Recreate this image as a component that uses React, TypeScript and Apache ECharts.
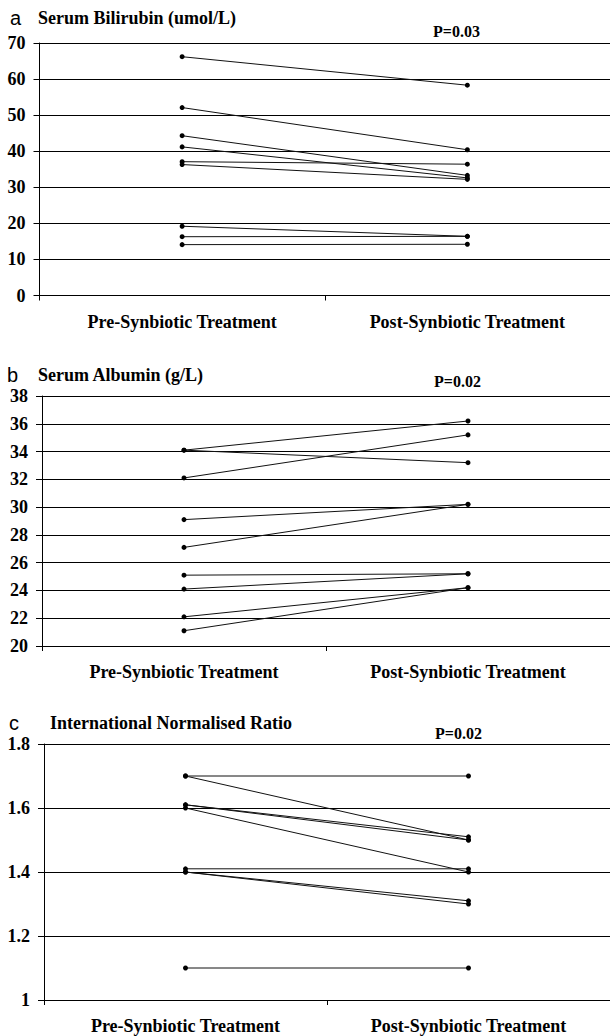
import React, { useEffect, useRef } from "react";
import * as echarts from "echarts";

const categories = ["Pre-Synbiotic Treatment", "Post-Synbiotic Treatment"];

// Panel a: Serum Bilirubin (umol/L)
const bilirubinPre = [66.2, 52.1, 44.3, 41.2, 37.1, 36.3, 19.2, 16.3, 14.1];
const bilirubinPost = [58.3, 40.4, 33.3, 32.6, 36.4, 32.2, 16.4, 16.4, 14.2];

// Panel b: Serum Albumin (g/L)
const albuminPre = [34.1, 34.1, 32.1, 29.1, 27.1, 25.1, 24.1, 22.1, 21.1];
const albuminPost = [36.2, 33.2, 35.2, 30.2, 30.2, 25.2, 25.2, 24.2, 24.2];

// Panel c: International Normalised Ratio
const inrPre = [1.7, 1.7, 1.61, 1.61, 1.6, 1.41, 1.4, 1.4, 1.1];
const inrPost = [1.7, 1.5, 1.51, 1.5, 1.4, 1.41, 1.31, 1.3, 1.1];

const panelLetters = ["a", "b", "c"];
const panelTitles = ["Serum Bilirubin (umol/L)", "Serum Albumin (g/L)", "International Normalised Ratio"];
const pValues = ["P=0.03", "P=0.02", "P=0.02"];
const yMins = [0, 20, 1];
const yMaxs = [70, 38, 1.8];
const yIntervals = [10, 2, 0.2];

const SERIF = "'Liberation Serif', 'Times New Roman', serif";
const SANS = "'Liberation Sans', Arial, sans-serif";

export default function App() {
  const ref = useRef<HTMLDivElement>(null);

  useEffect(() => {
    if (!ref.current) return;
    const chart = echarts.init(ref.current, undefined, { renderer: "svg" });

    const panels = [
      { pre: bilirubinPre, post: bilirubinPost },
      { pre: albuminPre, post: albuminPost },
      { pre: inrPre, post: inrPost },
    ];

    const grids = [
      { left: 39.5, right: 0, top: 43, height: 252.5 },
      { left: 42, right: 0, top: 396, height: 250 },
      { left: 44, right: 0, top: 744, height: 256 },
    ];

    const titleY = [18, 375, 723];
    const letterX = [10, 7, 9];
    const titleX = [38, 38, 50];
    const pPos = [
      [433, 31],
      [434, 381],
      [435, 733],
    ];

    const xAxes = grids.map((_, k) => ({
      type: "category",
      gridIndex: k,
      data: categories,
      boundaryGap: true,
      axisLine: { show: true, lineStyle: { color: "#000", width: 1 } },
      axisTick: { show: true, length: 5, lineStyle: { color: "#000", width: 1 } },
      axisLabel: {
        color: "#000",
        fontFamily: SERIF,
        fontWeight: "bold",
        fontSize: 18,
        margin: 17,
      },
      splitLine: { show: false },
    }));

    const yAxes = grids.map((_, k) => ({
      type: "value",
      gridIndex: k,
      min: yMins[k],
      max: yMaxs[k],
      interval: yIntervals[k],
      axisLine: { show: true, lineStyle: { color: "#000", width: 1 } },
      axisTick: { show: true, length: 6, lineStyle: { color: "#000", width: 1 } },
      axisLabel: {
        color: "#000",
        fontFamily: SERIF,
        fontWeight: "bold",
        fontSize: 18,
        margin: 14,
        formatter: (v: number) => String(Number(v.toFixed(1))),
      },
      splitLine: { show: true, lineStyle: { color: "#000", width: 1 } },
    }));

    const series: any[] = [];
    panels.forEach((p, k) => {
      p.pre.forEach((v, i) => {
        series.push({
          type: "line",
          xAxisIndex: k,
          yAxisIndex: k,
          data: [v, p.post[i]],
          symbol: "circle",
          symbolSize: 5,
          showSymbol: true,
          itemStyle: { color: "#000" },
          lineStyle: { color: "#111", width: 1 },
          silent: true,
          z: 3,
        });
      });
    });

    const graphics: any[] = [];
    for (let k = 0; k < 3; k++) {
      graphics.push({
        type: "text",
        x: letterX[k],
        y: titleY[k],
        style: {
          text: panelLetters[k],
          fill: "#000",
          font: `normal 20px ${SANS}`,
          textVerticalAlign: "middle",
          verticalAlign: "middle",
        },
      });
      graphics.push({
        type: "text",
        x: titleX[k],
        y: titleY[k],
        style: {
          text: panelTitles[k],
          fill: "#000",
          font: `bold 18px ${SERIF}`,
          textVerticalAlign: "middle",
          verticalAlign: "middle",
        },
      });
      graphics.push({
        type: "text",
        x: pPos[k][0],
        y: pPos[k][1],
        style: {
          text: pValues[k],
          fill: "#000",
          font: `bold 16px ${SERIF}`,
          textVerticalAlign: "middle",
          verticalAlign: "middle",
        },
      });
    }

    chart.setOption({
      animation: false,
      backgroundColor: "#fff",
      grid: grids,
      xAxis: xAxes,
      yAxis: yAxes,
      series,
      graphic: graphics,
    });

    return () => {
      chart.dispose();
    };
  }, []);

  return (
    <div
      ref={ref}
      style={{ position: "absolute", left: 0, top: 0, width: 610, height: 1036 }}
    />
  );
}
